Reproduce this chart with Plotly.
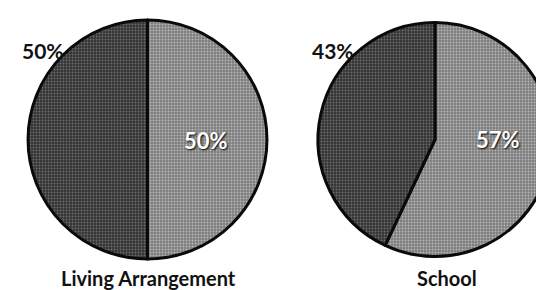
import plotly.graph_objects as go

# Data (right-hand / lighter slice first, drawn clockwise from 12 o'clock)
charts = ["Living Arrangement", "School"]
categories = ["Group B", "Group A"]
living_values = [50, 50]
school_values = [57, 43]

dark_bg, dark_fg = "#343434", "#6e6e6e"
light_bg, light_fg = "#7e7e7e", "#b8b8b8"

fig = go.Figure()

domains = [
    dict(x=[20 / 544, 259 / 544], y=[39 / 290, 278 / 290]),
    dict(x=[310 / 544, 1.0], y=[39 / 290, 278 / 290]),
]

for vals, dom in zip([living_values, school_values], domains):
    fig.add_trace(go.Pie(
        labels=categories,
        values=vals,
        sort=False,
        direction="clockwise",
        rotation=0,
        domain=dom,
        textinfo="none",
        hoverinfo="label+percent",
        showlegend=False,
        marker=dict(
            colors=[light_bg, dark_bg],
            line=dict(color="#0a0a0a", width=3),
            pattern=dict(shape=".", bgcolor=[light_bg, dark_bg],
                         fgcolor=[light_fg, dark_fg], size=3, solidity=0.3),
        ),
    ))

font_family = "Lato, 'Liberation Sans', sans-serif"

annotations = []
outside_pos = [(35, 43), (325, 43)]
inside_pos = [(198, 133), (490, 131)]
for vals, op, ip in zip([living_values, school_values], outside_pos, inside_pos):
    annotations.append(dict(
        x=op[0] / 544, y=1 - op[1] / 290, xref="paper", yref="paper",
        text=f"<b>{vals[1]}%</b>", showarrow=False,
        font=dict(family=font_family, size=21, color="#111111"),
        xanchor="center", yanchor="middle",
    ))
    annotations.append(dict(
        x=ip[0] / 544, y=1 - ip[1] / 290, xref="paper", yref="paper",
        text=f"<b>{vals[0]}%</b>", showarrow=False,
        font=dict(family=font_family, size=22, color="white",
                  shadow="1px 1px 2px #000000"),
        xanchor="center", yanchor="middle",
    ))

title_pos = [(140, 270), (439, 270)]
for name, tp in zip(charts, title_pos):
    annotations.append(dict(
        x=tp[0] / 544, y=1 - tp[1] / 290, xref="paper", yref="paper",
        text=f"<b>{name}</b>", showarrow=False,
        font=dict(family=font_family, size=20, color="#111111"),
        xanchor="center", yanchor="middle",
    ))

fig.update_layout(
    width=544, height=290,
    margin=dict(l=0, r=0, t=0, b=0),
    paper_bgcolor="white", plot_bgcolor="white",
    annotations=annotations,
)

fig.write_html("out.html")
